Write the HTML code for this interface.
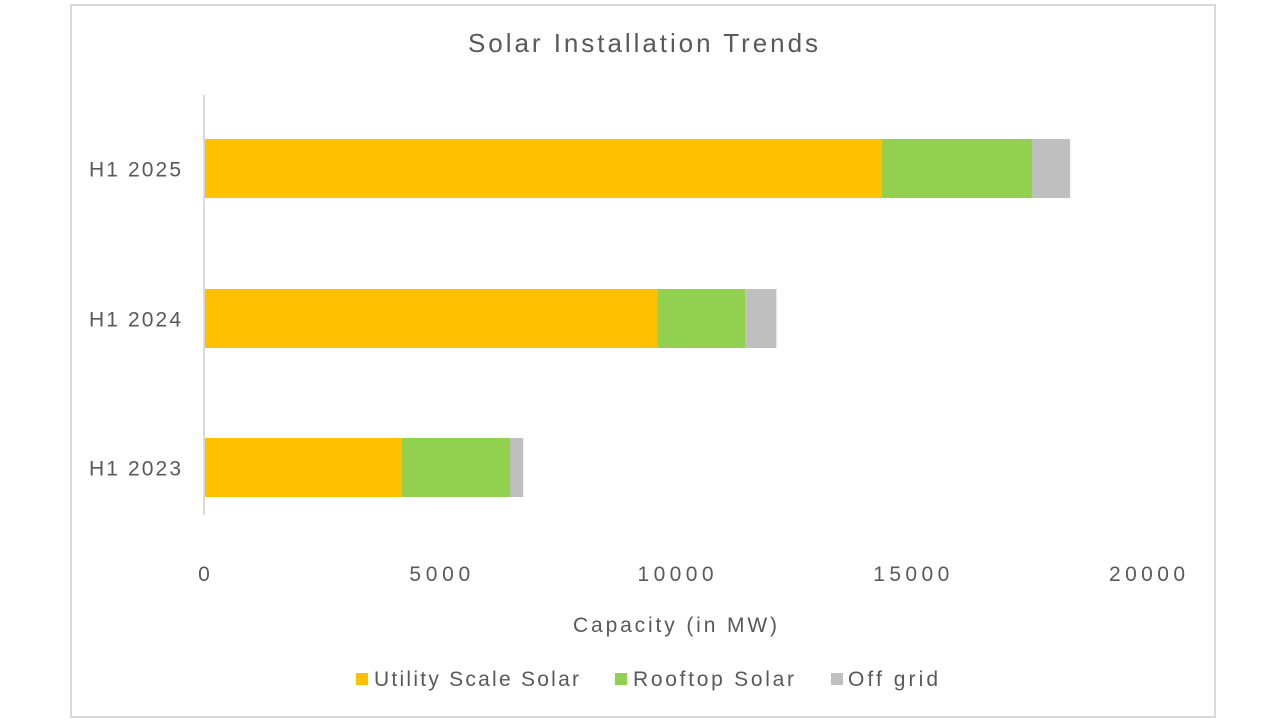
<!DOCTYPE html>
<html><head><meta charset="utf-8"><style>
body{margin:0;background:#fff;font-family:"Liberation Sans",sans-serif}
svg text{font-family:"Liberation Sans",sans-serif;fill:#595959}
</style></head><body>
<svg width="1280" height="720">
<rect x="71" y="5" width="1144" height="712" fill="#fff" stroke="#d9d9d9" stroke-width="2"/>
<text x="643" y="52" font-size="26" text-anchor="middle" textLength="350">Solar Installation Trends</text>
<g id="plot"></g>
<line x1="204" y1="95" x2="204" y2="515" stroke="#d9d9d9" stroke-width="2"/>
<text x="675" y="632" font-size="21" text-anchor="middle" textLength="204">Capacity (in MW)</text>
<g>
<rect x="356" y="673" width="12" height="12" fill="#FFC000"/>
<text x="374" y="686" font-size="21" textLength="205">Utility Scale Solar</text>
<rect x="615" y="673" width="12" height="12" fill="#92D050"/>
<text x="633" y="686" font-size="21" textLength="161">Rooftop Solar</text>
<rect x="831" y="673" width="12" height="12" fill="#BFBFBF"/>
<text x="848" y="686" font-size="21" textLength="90">Off grid</text>
</g>
</svg>
<script>
const categories = ["H1 2025","H1 2024","H1 2023"];
const utility = [14380, 9610, 4200];
const rooftop = [3180, 1870, 2290];
const offgrid = [810, 660, 280];
const ticks = [0, 5000, 10000, 15000, 20000];
const tickLabels = ["0","5000","10000","15000","20000"];

const NS = "http://www.w3.org/2000/svg";
const g = document.getElementById("plot");
const x0 = 204, pxPer = (1147 - 204) / 20000;
const xs = v => x0 + v * pxPer;
const bandTop = [139, 289, 438], barH = 59;
const yCenter = i => bandTop[i] + barH / 2;
function mk(tag, attrs){const e=document.createElementNS(NS,tag);for(const k in attrs)e.setAttribute(k,attrs[k]);g.appendChild(e);return e;}
const series = [[utility,"#FFC000","utility"],[rooftop,"#92D050","rooftop"],[offgrid,"#BFBFBF","offgrid"]];
categories.forEach((c,i)=>{
  let acc = 0;
  series.forEach(([arr,col,nm])=>{
    const r = mk("rect",{x:xs(acc),y:bandTop[i],width:xs(acc+arr[i])-xs(acc),height:barH,fill:col});
    
    
    acc += arr[i];
  });
  const t = mk("text",{x:181,y:yCenter(i)+8,"font-size":21,"text-anchor":"end",textLength:92});
  t.textContent = c;
  
  
});
ticks.forEach((v,i)=>{
  const lab = tickLabels[i];
  const t = mk("text",{x:xs(v),y:581,"font-size":21,"text-anchor":"middle",textLength:lab.length*15.2});
  t.textContent = lab;
  
  
});
</script>
</body></html>
